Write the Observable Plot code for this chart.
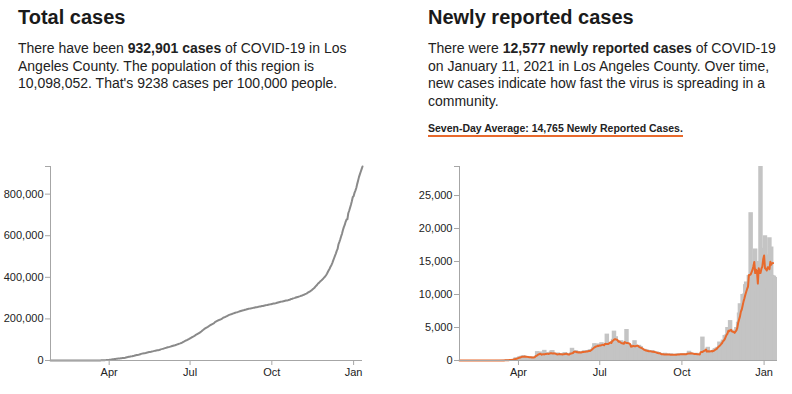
<!DOCTYPE html>
<html>
<head>
<meta charset="utf-8">
<script src="https://cdn.jsdelivr.net/npm/d3@7"></script>
<script src="https://cdn.jsdelivr.net/npm/@observablehq/plot@0.6"></script>
<style>
  html, body { margin: 0; padding: 0; background: #fff; }
  body { width: 792px; height: 394px; position: relative; overflow: hidden;
         font-family: "Liberation Sans", Arial, Helvetica, sans-serif; color: #222; }
  .title { position: absolute; top: 5px; margin: 0; font-size: 20px; font-weight: bold;
           line-height: 24px; white-space: nowrap; color: #1a1a1a; }
  .para { position: absolute; top: 40px; margin: 0; font-size: 14px; line-height: 17.5px;
          white-space: nowrap; color: #222; }
  .avg { position: absolute; top: 122px; left: 428px; font-size: 10.5px; font-weight: bold;
         line-height: 13px; white-space: nowrap; color: #222;
         border-bottom: 2px solid #e8692c; padding-bottom: 0; }
  #left { position: absolute; left: 0; top: 150px; }
  #right { position: absolute; left: 410px; top: 150px; }
</style>
</head>
<body>
<div class="title" style="left:18px">Total cases</div>
<div class="para" style="left:18px">There have been <b>932,901 cases</b> of COVID-19 in Los<br>Angeles County. The population of this region is<br>10,098,052. That's 9238 cases per 100,000 people.</div>

<div class="title" style="left:428px">Newly reported cases</div>
<div class="para" style="left:428px">There were <b>12,577 newly reported cases</b> of COVID-19<br>on January 11, 2021 in Los Angeles County. Over time,<br>new cases indicate how fast the virus is spreading in a<br>community.</div>
<div class="avg">Seven-Day Average: 14,765 Newly Reported Cases.</div>

<div id="left"></div>
<div id="right"></div>

<script>
// ---- data ----
const startDate = "2020-01-26";
// daily newly reported cases, one row per week (Sun..Sat), from Jan 26, 2020 to Jan 11, 2021
const newCases = [
  1,0,0,0,0,0,0,
  0,0,0,0,0,0,0,
  0,0,0,0,0,0,0,
  0,0,0,0,0,0,0,
  0,0,0,0,0,0,0,
  0,0,0,5,1,3,4,
  3,2,3,8,13,10,13,
  16,25,50,46,40,62,67,
  115,128,138,128,240,421,257,
  342,258,548,534,634,521,711,
  690,420,550,620,584,530,475,
  420,400,500,520,400,470,400,
  650,1350,1100,1000,1300,800,900,
  440,600,1540,1000,1200,1150,1000,
  550,800,1250,1440,1500,1100,700,
  650,950,1000,1150,1030,1000,960,
  740,650,1000,1100,1200,1100,1000,
  1000,700,450,1000,1150,1850,1170,
  1300,1000,1500,1400,1100,1350,1250,
  900,1200,1300,1350,1400,1500,1300,
  1100,1400,1500,1450,1600,1650,1300,
  1700,2000,2550,2200,2500,2100,1900,
  1900,2500,2400,2700,2400,2500,2200,
  1900,2100,4000,2300,2400,2500,2600,
  2700,2800,3200,4450,2800,3600,3000,
  2600,2400,2700,2900,3000,2800,2300,
  2100,2200,2500,4700,2300,2400,2300,
  2000,1900,1800,2000,2400,3000,2300,
  1600,2000,2200,2300,2000,2100,1700,
  1300,1500,1700,1600,1500,1600,1300,
  1100,1300,1500,1400,1500,1400,1200,
  1000,1100,1300,1100,1200,1100,1000,
  900,700,750,1000,1100,1000,950,
  800,700,850,950,1000,900,850,
  750,800,900,950,950,1000,900,
  850,900,950,1000,1000,950,900,
  850,900,1100,1400,1200,1100,1000,
  900,850,1000,1050,1100,1000,950,
  800,750,850,900,3550,1100,1000,
  1700,1100,1200,2000,1300,1300,1200,
  1400,1300,1500,1600,1800,1700,1900,
  2000,1800,2800,2500,2600,2700,3100,
  3000,3800,3600,3900,5000,4800,4400,
  6050,3300,4600,4500,3200,4400,4300,
  5000,4700,5800,7200,8600,7900,7600,
  10000,7000,10100,11500,11900,11700,10800,
  12900,9500,22400,11500,12600,14000,13200,
  16900,14000,10500,15000,11000,1000,29400,
  12000,14000,15000,17000,18900,5000,16000,
  11000,12500,18600,16500,17200,12900,12800,
  12778,12577
];
const xTickDates = ["2020-04-01", "2020-07-01", "2020-10-01", "2021-01-01"];
const xTickLabels = ["Apr", "Jul", "Oct", "Jan"];
const totalTicks = [0, 200000, 400000, 600000, 800000];
const newTicks = [0, 5000, 10000, 15000, 20000, 25000];
const barDays = 5;

// ---- build table ----
const start = d3.isoParse(startDate + "T00:00:00Z");
const totals = d3.cumsum(newCases);
const data = newCases.map((c, i) => {
  const date = d3.utcDay.offset(start, i);
  return { date, end: d3.utcDay.offset(date, barDays), cases: c, total: totals[i] };
});
const lastDate = data[data.length - 1].date;
const tickDates = xTickDates.map(s => d3.isoParse(s + "T00:00:00Z"));
const tickFmt = d => { const k = tickDates.findIndex(t => +t === +d); return k < 0 ? "" : xTickLabels[k]; };
const axisGray = "#a6a6a6";
const labelColor = "#222";
const font = "'Liberation Sans', Arial, Helvetica, sans-serif";
const style = { fontFamily: font, fontSize: "11px", color: "#222", background: "transparent", overflow: "visible" };

const maxTotal = d3.max(totals);
const left = Plot.plot({
  width: 380, height: 240,
  marginLeft: 50, marginRight: 18, marginTop: 16, marginBottom: 30,
  style,
  x: { type: "utc", domain: [start, lastDate], label: null },
  y: { domain: [0, maxTotal], label: null },
  marks: [
    Plot.lineY(data, { x: "date", y: "total", stroke: "#8a8a8a", strokeWidth: 2, strokeLinejoin: "round" }),
    Plot.ruleY([0], { stroke: axisGray }),
    Plot.ruleX([start], { stroke: axisGray }),
    Plot.axisX({ ticks: tickDates, tickFormat: tickFmt, tickSize: 5, tickPadding: 3, stroke: axisGray, fill: labelColor, label: null }),
    Plot.axisY({ ticks: totalTicks, tickFormat: d3.format(","), tickSize: 5, tickPadding: 2, stroke: axisGray, fill: labelColor, label: null }),
    Plot.axisY({ ticks: [maxTotal], tickFormat: () => "", tickSize: 5, stroke: axisGray, label: null })
  ]
});
document.getElementById("left").append(left);

const maxNew = d3.max(newCases);
const right = Plot.plot({
  width: 382, height: 240,
  marginLeft: 49, marginRight: 15, marginTop: 16, marginBottom: 30,
  style,
  x: { type: "utc", domain: [start, d3.max(data, d => d.end)], label: null },
  y: { domain: [0, maxNew], label: null },
  marks: [
    Plot.rectY(data, { x1: "date", x2: "end", y: "cases", fill: "#c4c4c4" }),
    Plot.lineY(data, Plot.windowY({ k: 7, anchor: "end", reduce: "mean" },
      { x: "date", y: "cases", stroke: "#e8692c", strokeWidth: 2, strokeLinejoin: "round" })),
    Plot.ruleY([0], { stroke: axisGray }),
    Plot.ruleX([start], { stroke: axisGray }),
    Plot.axisX({ ticks: tickDates, tickFormat: tickFmt, tickSize: 5, tickPadding: 3, stroke: axisGray, fill: labelColor, label: null }),
    Plot.axisY({ ticks: newTicks, tickFormat: d3.format(","), tickSize: 5, tickPadding: 2, stroke: axisGray, fill: labelColor, label: null }),
    Plot.axisY({ ticks: [maxNew], tickFormat: () => "", tickSize: 5, stroke: axisGray, label: null })
  ]
});
document.getElementById("right").append(right);
</script>
</body>
</html>
